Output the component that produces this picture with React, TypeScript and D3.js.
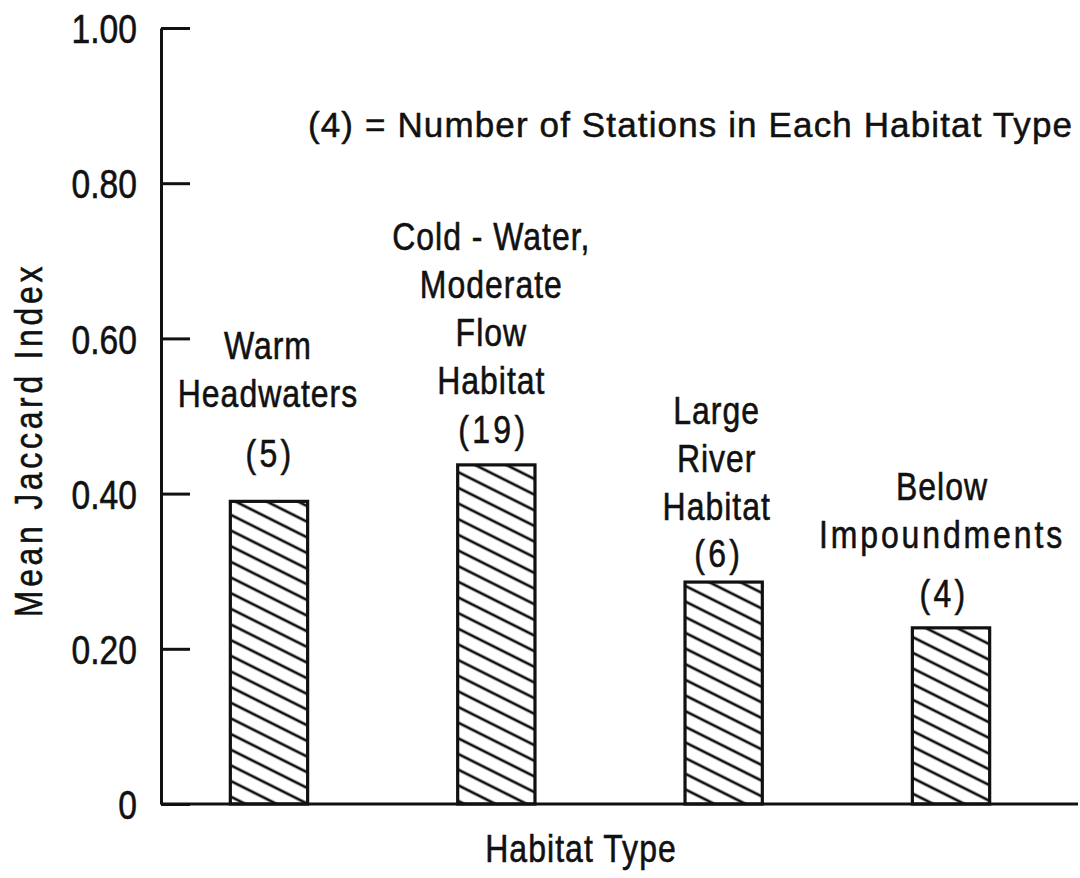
import React, { useEffect, useRef } from "react";
import * as d3 from "d3";

// Data
const categories = ["Warm Headwaters", "Cold-Water, Moderate Flow Habitat", "Large River Habitat", "Below Impoundments"];
const labelLines = [
  ["Warm", "Headwaters"],
  ["Cold - Water,", "Moderate", "Flow", "Habitat"],
  ["Large", "River", "Habitat"],
  ["Below", "Impoundments"],
];
const stationCounts = [5, 19, 6, 4];
const meanJaccard = [0.39, 0.437, 0.286, 0.227];
const yTicks = [0, 0.2, 0.4, 0.6, 0.8, 1.0];
const noteText = "(4) = Number of Stations in Each Habitat Type";
const xTitle = "Habitat Type";
const yTitle = "Mean Jaccard Index";

// Layout for the labels above the bars (baselines / nudges)
const labelFirstBaseline = [359, 250, 424, 500];
const countBaseline = [467, 443, 567, 607];
const labelDx = [-1, -5, -7, -9];

const FONT = "'Liberation Sans', Arial, sans-serif";
const SQUEEZE = 0.82; // narrow look of the typewriter-style lettering
const INK = "#111";

const App = () => {
  const ref = useRef<SVGSVGElement | null>(null);

  useEffect(() => {
    const svg = d3.select(ref.current);
    svg.selectAll("*").remove();

    var width = 1080;
    var height = 878;
    var left = 161;
    var bottom = 804;
    var top = 28;

    svg.attr("width", width).attr("height", height);

    // hatch pattern for bars
    var defs = svg.append("defs");
    var pat = defs
      .append("pattern")
      .attr("id", "hatch")
      .attr("patternUnits", "userSpaceOnUse")
      .attr("width", 10)
      .attr("height", 14)
      .attr("patternTransform", "rotate(26.6)");
    pat
      .append("line")
      .attr("x1", 0)
      .attr("x2", 10)
      .attr("y1", 7)
      .attr("y2", 7)
      .attr("stroke", INK)
      .attr("stroke-width", 2.7);

    var x = d3
      .scaleBand()
      .domain(categories)
      .range([left, 1059])
      .paddingInner(0.66)
      .paddingOuter(0.305);

    var y = d3.scaleLinear().domain([0, 1]).range([bottom, top]);

    // narrow text helper
    function narrowText(g: any, cx: number, cy: number, str: string, size: number, ls: number, anchor = "middle") {
      return g
        .append("text")
        .attr("transform", "translate(" + cx + "," + cy + ") scale(" + SQUEEZE + ",1)")
        .attr("text-anchor", anchor)
        .attr("fill", INK)
        .attr("stroke", INK)
        .attr("stroke-width", 0.6)
        .style("font-family", FONT)
        .style("font-size", size + "px")
        .style("letter-spacing", ls + "px")
        .text(str);
    }

    // y axis, ticks pointing inward
    var yAxis = d3
      .axisLeft(y)
      .tickValues(yTicks)
      .tickSizeInner(-29)
      .tickSizeOuter(0)
      .tickPadding(24)
      .tickFormat((d: any) => (d === 0 ? "0" : d3.format(".2f")(d)));

    var gy = svg.append("g").attr("transform", "translate(" + left + ",0)").call(yAxis);
    gy.select(".domain").attr("stroke", INK).attr("stroke-width", 3);
    gy.selectAll(".tick line").attr("stroke", INK).attr("stroke-width", 3);
    gy.selectAll(".tick text")
      .attr("fill", INK)
      .attr("stroke", INK)
      .attr("stroke-width", 0.6)
      .attr("x", -24 / SQUEEZE)
      .attr("dy", "0.36em")
      .attr("transform", "scale(" + SQUEEZE + ",1)")
      .style("font-family", FONT)
      .style("font-size", "41px");
    gy.attr("font-family", null).attr("font-size", null);

    // bars
    svg
      .selectAll("rect.bar")
      .data(categories)
      .enter()
      .append("rect")
      .attr("class", "bar")
      .attr("x", (d) => x(d) as number)
      .attr("width", x.bandwidth())
      .attr("y", (d, i) => y(meanJaccard[i]))
      .attr("height", (d, i) => bottom - y(meanJaccard[i]))
      .attr("fill", "url(#hatch)")
      .attr("stroke", INK)
      .attr("stroke-width", 3.2);

    // baseline
    svg
      .append("line")
      .attr("x1", left)
      .attr("x2", 1078)
      .attr("y1", bottom)
      .attr("y2", bottom)
      .attr("stroke", INK)
      .attr("stroke-width", 3);

    // labels above bars
    categories.forEach((d, i) => {
      var cx = (x(d) as number) + x.bandwidth() / 2 + labelDx[i];
      labelLines[i].forEach((line, j) => {
        narrowText(svg, cx, labelFirstBaseline[i] + j * 48, line, 39, line === "Impoundments" ? 3.5 : 1.2);
      });
      narrowText(svg, cx + 2, countBaseline[i], "(" + stationCounts[i] + ")", 39, 4);
    });

    // note
    svg
      .append("text")
      .attr("x", 308)
      .attr("y", 137)
      .attr("fill", INK)
      .attr("stroke", INK)
      .attr("stroke-width", 0.5)
      .attr("textLength", 764)
      .attr("lengthAdjust", "spacing")
      .style("font-family", FONT)
      .style("font-size", "35px")
      .text(noteText);

    // axis titles
    narrowText(svg, 581, 862, xTitle, 39, 1.3);

    svg
      .append("text")
      .attr("transform", "translate(42,440) rotate(-90) scale(" + SQUEEZE + ",1)")
      .attr("text-anchor", "middle")
      .attr("fill", INK)
      .attr("stroke", INK)
      .attr("stroke-width", 0.6)
      .style("font-family", FONT)
      .style("font-size", "39px")
      .style("letter-spacing", "4.5px")
      .text(yTitle);
  }, []);

  return (
    <div style={{ position: "absolute", left: 0, top: 0, background: "#fff" }}>
      <svg ref={ref} style={{ display: "block" }}></svg>
    </div>
  );
};

export default App;
